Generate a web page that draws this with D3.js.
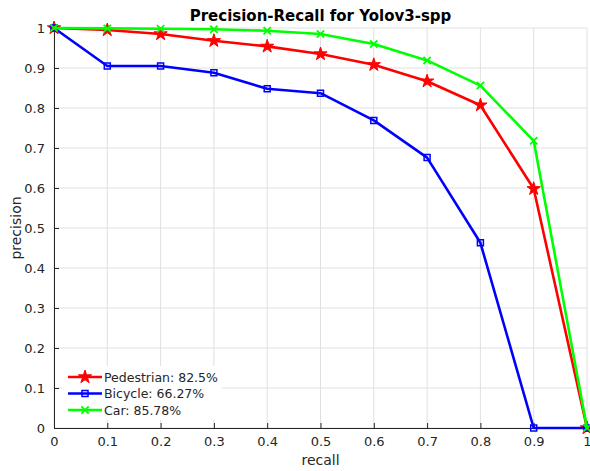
<!DOCTYPE html>
<meta charset="utf-8">
<style>
    body { margin: 0; background: #fff; }
    text { font-family: "DejaVu Sans", sans-serif; fill: #262626; }
    .grid line { stroke: #e0e0e0; stroke-width: 1; }
</style>
<svg width="590" height="471"></svg>
<script src="https://d3js.org/d3.v7.min.js"></script>
<script>
    var recall = [0, 0.1, 0.2, 0.3, 0.4, 0.5, 0.6, 0.7, 0.8, 0.9, 1.0];
    var pedestrian = [1.0, 0.995, 0.985, 0.968, 0.954, 0.935, 0.908, 0.867, 0.807, 0.598, 0];
    var bicycle = [1.0, 0.905, 0.905, 0.888, 0.848, 0.837, 0.769, 0.676, 0.463, 0, 0];
    var car = [1.0, 0.999, 0.998, 0.997, 0.993, 0.985, 0.960, 0.919, 0.856, 0.718, 0];
    var seriesNames = ["Pedestrian: 82.5%", "Bicycle: 66.27%", "Car: 85.78%"];
    var seriesColors = ["#ff0000", "#0000ff", "#00ff00"];
    var seriesMarkers = ["star", "square", "cross"];
    var ticks = [0, 0.1, 0.2, 0.3, 0.4, 0.5, 0.6, 0.7, 0.8, 0.9, 1];

    var svg = d3.select("svg");
    var pLeft = 54, pRight = 587, pTop = 28, pBottom = 428;
    var x = d3.scaleLinear().domain([0, 1]).range([pLeft, pRight]);
    var y = d3.scaleLinear().domain([0, 1]).range([pBottom, pTop]);
    var fmt = function (d) { return d === 0 ? "0" : d === 1 ? "1" : d3.format(".1f")(d); };

    // grid
    var grid = svg.append("g").attr("class", "grid");
    grid.selectAll(".gx").data(ticks).enter().append("line")
        .attr("x1", d => x(d)).attr("x2", d => x(d)).attr("y1", pTop).attr("y2", pBottom);
    grid.selectAll(".gy").data(ticks).enter().append("line")
        .attr("y1", d => y(d)).attr("y2", d => y(d)).attr("x1", pLeft).attr("x2", pRight);

    // axes
    var xAxis = d3.axisBottom(x).tickValues(ticks).tickFormat(fmt).tickSizeInner(-5).tickSizeOuter(0).tickPadding(9);
    var yAxis = d3.axisLeft(y).tickValues(ticks).tickFormat(fmt).tickSizeInner(-5).tickSizeOuter(0).tickPadding(9);
    var gx = svg.append("g").attr("transform", "translate(0," + pBottom + ")").call(xAxis);
    var gy = svg.append("g").attr("transform", "translate(" + pLeft + ",0)").call(yAxis);
    [gx, gy].forEach(function (g) {
        g.selectAll("path, line").attr("stroke", "#262626");
        g.selectAll("text").style("font-size", "13px").style("fill", "#262626")
            .style("font-family", "'DejaVu Sans', sans-serif");
    });

    svg.append("text").attr("x", (pLeft + pRight) / 2).attr("y", 21)
        .attr("text-anchor", "middle").style("font-size", "15px").style("font-weight", "bold")
        .style("fill", "#000").text("Precision-Recall for Yolov3-spp");
    svg.append("text").attr("x", (pLeft + pRight) / 2).attr("y", 465)
        .attr("text-anchor", "middle").style("font-size", "14px").text("recall");
    svg.append("text").attr("transform", "translate(21," + (pTop + pBottom) / 2 + ") rotate(-90)")
        .attr("text-anchor", "middle").style("font-size", "14px").text("precision");

    var symbols = {
        star: d3.symbol().type(d3.symbolStar).size(55),
        square: d3.symbol().type(d3.symbolSquare).size(36),
        cross: d3.symbol().type(d3.symbolX).size(36)
    };

    function drawMarker(g, kind, color, cx, cy) {
        var p = g.append("path").attr("d", symbols[kind]()).attr("transform", "translate(" + cx + "," + cy + ")");
        if (kind === "star") p.attr("fill", color).attr("stroke", color).attr("stroke-width", 1);
        else if (kind === "square") p.attr("fill", "none").attr("stroke", color).attr("stroke-width", 1.5);
        else p.attr("fill", color).attr("stroke", color).attr("stroke-width", 1.8);
    }

    var data = [pedestrian, bicycle, car];
    var line = d3.line().x((d, i) => x(recall[i])).y(d => y(d));
    data.forEach(function (vals, k) {
        var g = svg.append("g");
        g.append("path").datum(vals).attr("d", line).attr("fill", "none")
            .attr("stroke", seriesColors[k]).attr("stroke-width", 2.6).attr("stroke-linejoin", "round");
        vals.forEach(function (v, i) { drawMarker(g, seriesMarkers[k], seriesColors[k], x(recall[i]), y(v)); });
    });

    // legend
    var lg = svg.append("g");
    lg.append("rect").attr("x", 62).attr("y", 366).attr("width", 160).attr("height", 54).attr("fill", "#fff");
    seriesNames.forEach(function (name, k) {
        var yy = 377 + k * 16.5;
        lg.append("line").attr("x1", 68).attr("x2", 102).attr("y1", yy).attr("y2", yy)
            .attr("stroke", seriesColors[k]).attr("stroke-width", 2.6);
        drawMarker(lg, seriesMarkers[k], seriesColors[k], 85, yy);
        lg.append("text").attr("x", 104).attr("y", yy + 4.5).style("font-size", "12.5px").text(name);
    });
</script>
